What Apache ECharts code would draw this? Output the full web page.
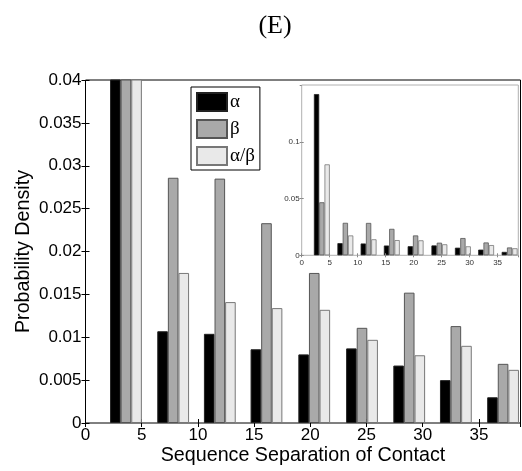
<!DOCTYPE html>
<html>
<head>
<meta charset="utf-8">
<script src="https://cdn.jsdelivr.net/npm/echarts@6/dist/echarts.min.js"></script>
<style>html,body{margin:0;padding:0;background:#fff}#c{width:522px;height:471px}</style>
</head>
<body>
<div id="c"></div>
<script>
// Data
const binCenters = [3.6, 7.8, 11.95, 16.1, 20.35, 24.6, 28.8, 32.95, 37.15];
const alphaVals = [0.142, 0.0107, 0.0104, 0.0086, 0.0080, 0.0087, 0.0067, 0.0050, 0.0030];
const betaVals = [0.0467, 0.0286, 0.0285, 0.0233, 0.0175, 0.0111, 0.0152, 0.0113, 0.0069];
const alphaBetaVals = [0.0801, 0.0175, 0.0141, 0.0134, 0.0132, 0.0097, 0.0079, 0.0090, 0.0062];
const seriesNames = ['α', 'β', 'α/β'];
const xTicks = [0, 5, 10, 15, 20, 25, 30, 35];
const mainYTicks = [0, 0.005, 0.01, 0.015, 0.02, 0.025, 0.03, 0.035, 0.04];
const insetYTicks = [0, 0.05, 0.1];

const colors = ['#000000', '#a9a9a9', '#e9e9e9'];
const borders = ['#222222', '#555555', '#777777'];
const allVals = [alphaVals, betaVals, alphaBetaVals];

const SANS = '"Liberation Sans", Arial, sans-serif';
const SERIF = '"Liberation Serif", "Times New Roman", serif';

function pairs(vals) { return binCenters.map((x, i) => [x, vals[i]]); }
function fmtX(v) { return xTicks.indexOf(Math.round(v * 1000) / 1000) >= 0 ? String(v) : ''; }
function fmtY(ticks) {
  return v => {
    const r = Math.round(v * 100000) / 100000;
    return ticks.some(t => Math.abs(t - r) < 1e-9) ? String(r) : '';
  };
}

const chart = echarts.init(document.getElementById('c'), null, {renderer: 'canvas'});

const series = [];
for (let k = 0; k < 3; k++) {
  series.push({
    name: seriesNames[k], type: 'bar', xAxisIndex: 0, yAxisIndex: 0,
    data: pairs(allVals[k]), barWidth: 10.6, barGap: '0%', clip: true,
    itemStyle: {color: colors[k], borderColor: borders[k], borderWidth: 1},
    emphasis: {disabled: true}, animation: false
  });
}
for (let k = 0; k < 3; k++) {
  series.push({
    name: seriesNames[k], type: 'bar', xAxisIndex: 2, yAxisIndex: 2,
    data: pairs(allVals[k]), barWidth: 5.3, barGap: '0%', clip: true,
    itemStyle: {color: colors[k], borderColor: borders[k], borderWidth: 0.8},
    emphasis: {disabled: true}, animation: false, z: 5
  });
}

const option = {
  animation: false,
  backgroundColor: '#ffffff',
  title: {
    text: '(E)', left: 270, top: 8, textAlign: 'center',
    textStyle: {fontFamily: SERIF, fontSize: 26, fontWeight: 'normal', color: '#000'}
  },
  legend: {
    data: seriesNames, orient: 'vertical', left: 191, top: 87,
    itemWidth: 30, itemHeight: 18, itemGap: 7, padding: [5, 5, 4, 5],
    backgroundColor: '#fff', borderColor: '#000', borderWidth: 1,
    icon: 'rect', selectedMode: false,
    textStyle: {fontFamily: SERIF, fontSize: 19, color: '#000', padding: [0, 0, 0, -2]}
  },
  grid: [
    {left: 85.5, top: 80, right: 1.5, bottom: 47, show: true, borderColor: '#000', borderWidth: 1, backgroundColor: 'transparent'},
    {left: 301.7, top: 85, right: 3.7, bottom: 215.7, show: true, borderColor: '#b0b0b0', borderWidth: 1, backgroundColor: '#fff', z: 4}
  ],
  xAxis: [
    {type: 'value', gridIndex: 0, min: 0, max: 38.7, interval: 5, position: 'bottom',
     axisLine: {show: false}, splitLine: {show: false},
     axisTick: {inside: true, length: 4, lineStyle: {color: '#000'}},
     axisLabel: {formatter: fmtX, fontFamily: SANS, fontSize: 17, color: '#000', margin: 4, showMaxLabel: false},
     name: 'Sequence Separation of Contact', nameLocation: 'middle', nameGap: 23, nameMoveOverlap: false,
     nameTextStyle: {fontFamily: SANS, fontSize: 19.7, color: '#000'}},
    {type: 'value', gridIndex: 0, min: 0, max: 38.7, interval: 5, position: 'top',
     axisLine: {show: false}, splitLine: {show: false},
     axisTick: {inside: true, length: 4, lineStyle: {color: '#000'}}, axisLabel: {show: false}},
    {type: 'value', gridIndex: 1, min: 0, max: 38.7, interval: 5, position: 'bottom',
     axisLine: {show: false}, splitLine: {show: false},
     axisTick: {inside: true, length: 2, lineStyle: {color: '#888'}},
     axisLabel: {formatter: fmtX, fontFamily: SANS, fontSize: 8, color: '#333', margin: 3, showMaxLabel: false}, z: 5},
    {type: 'value', gridIndex: 1, min: 0, max: 38.7, interval: 5, position: 'top',
     axisLine: {show: false}, splitLine: {show: false},
     axisTick: {inside: true, length: 2, lineStyle: {color: '#888'}}, axisLabel: {show: false}, z: 5}
  ],
  yAxis: [
    {type: 'value', gridIndex: 0, min: 0, max: 0.04, interval: 0.005, position: 'left',
     axisLine: {show: false}, splitLine: {show: false},
     axisTick: {inside: true, length: 4, lineStyle: {color: '#000'}},
     axisLabel: {formatter: fmtY(mainYTicks), fontFamily: SANS, fontSize: 17, color: '#000', margin: 4},
     name: 'Probability Density', nameLocation: 'middle', nameGap: 52, nameRotate: 90, nameMoveOverlap: false,
     nameTextStyle: {fontFamily: SANS, fontSize: 19.7, color: '#000'}},
    {type: 'value', gridIndex: 0, min: 0, max: 0.04, interval: 0.005, position: 'right',
     axisLine: {show: false}, splitLine: {show: false},
     axisTick: {inside: true, length: 4, lineStyle: {color: '#000'}}, axisLabel: {show: false}},
    {type: 'value', gridIndex: 1, min: 0, max: 0.15, interval: 0.05, position: 'left',
     axisLine: {show: false}, splitLine: {show: false},
     axisTick: {inside: true, length: 2, lineStyle: {color: '#888'}},
     axisLabel: {formatter: fmtY(insetYTicks), fontFamily: SANS, fontSize: 8, color: '#333', margin: 2, showMaxLabel: false}, z: 5},
    {type: 'value', gridIndex: 1, min: 0, max: 0.15, interval: 0.05, position: 'right',
     axisLine: {show: false}, splitLine: {show: false},
     axisTick: {inside: true, length: 2, lineStyle: {color: '#888'}}, axisLabel: {show: false}, z: 5}
  ],
  series: series
};
chart.setOption(option);
</script>
</body>
</html>
